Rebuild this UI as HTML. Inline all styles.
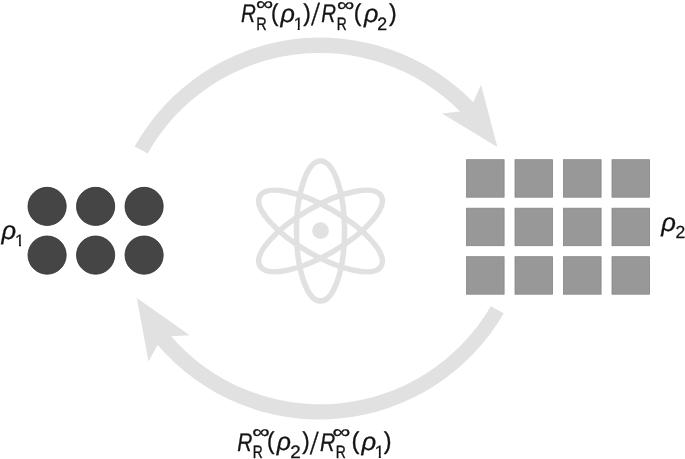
<!DOCTYPE html>
<html lang="en">
<head>
<meta charset="utf-8">
<title>Figure</title>
<style>
html,body{margin:0;padding:0;background:#fff;}
body{width:685px;height:459px;overflow:hidden;}
svg{display:block;}
</style>
</head>
<body>
<svg width="685" height="459" viewBox="0 0 685 459">
<defs>
<clipPath id="c1" clipPathUnits="userSpaceOnUse"><rect x="292.38" y="11.70" width="12.53" height="15.57"/><rect x="297.64" y="26.02" width="2.08" height="4.58"/></clipPath>
<clipPath id="c2" clipPathUnits="userSpaceOnUse"><rect x="373.48" y="439.90" width="12.53" height="15.57"/><rect x="378.74" y="454.22" width="2.08" height="4.58"/></clipPath>
<clipPath id="c3" clipPathUnits="userSpaceOnUse"><rect x="14.12" y="229.50" width="11.55" height="14.36"/><rect x="19.04" y="242.70" width="1.91" height="4.30"/></clipPath>
</defs>
<rect width="685" height="459" fill="#ffffff"/>
<path d="M134.6 146.5 A213 213 0 0 1 473.3 102.2 L481.0 84.8 L497.4 146.9 L441.9 113.5 L460.1 111.5 A197.5 197.5 0 0 0 147.7 153.4 Z" fill="#e1e1e1"/>
<path d="M503.8 313.3 A213 213 0 0 1 157.7 345.0 L148.5 361.5 L136.8 298.0 L189.8 335.2 L171.1 336.3 A197.5 197.5 0 0 0 490.8 306.3 Z" fill="#e1e1e1"/>
<g fill="none" stroke="#e1e1e1" stroke-width="5.5">
<ellipse cx="320.5" cy="231.0" rx="24.1" ry="70" transform="rotate(0 320.5 231.0)"/>
<ellipse cx="320.5" cy="231.0" rx="24.1" ry="70" transform="rotate(60 320.5 231.0)"/>
<ellipse cx="320.5" cy="231.0" rx="24.1" ry="70" transform="rotate(-60 320.5 231.0)"/>
</g>
<circle cx="320.5" cy="230.6" r="8.4" fill="#e1e1e1"/>
<g fill="#454545" stroke="#2e2e2e" stroke-width="0.8">
<circle cx="47.1" cy="206.4" r="19.1"/>
<circle cx="95.6" cy="206.4" r="19.1"/>
<circle cx="144.1" cy="206.4" r="19.1"/>
<circle cx="47.1" cy="255.1" r="19.1"/>
<circle cx="95.6" cy="255.1" r="19.1"/>
<circle cx="144.1" cy="255.1" r="19.1"/>
</g>
<g fill="#989898" stroke="#858585" stroke-width="0.8">
<rect x="466.5" y="159.7" width="37.6" height="37.5"/>
<rect x="515.0" y="159.7" width="37.6" height="37.5"/>
<rect x="563.5" y="159.7" width="37.6" height="37.5"/>
<rect x="612.0" y="159.7" width="37.6" height="37.5"/>
<rect x="466.5" y="208.2" width="37.6" height="37.5"/>
<rect x="515.0" y="208.2" width="37.6" height="37.5"/>
<rect x="563.5" y="208.2" width="37.6" height="37.5"/>
<rect x="612.0" y="208.2" width="37.6" height="37.5"/>
<rect x="466.5" y="256.7" width="37.6" height="37.5"/>
<rect x="515.0" y="256.7" width="37.6" height="37.5"/>
<rect x="563.5" y="256.7" width="37.6" height="37.5"/>
<rect x="612.0" y="256.7" width="37.6" height="37.5"/>
</g>
<g opacity="0.999" text-rendering="geometricPrecision" fill="#141414" font-family="'Liberation Sans', Arial, Helvetica, sans-serif">
<g><text transform="translate(241.06 21.90) scale(0.808 1.0)" font-size="25.5" font-style="italic" stroke="#141414" stroke-width="0.3" stroke-linejoin="round">R</text><text transform="translate(255.99 9.60) scale(1.293 1.0)" font-size="18.6" stroke="#141414" stroke-width="0.35" stroke-linejoin="round">∞</text><text transform="translate(256.21 29.60) scale(0.809 1.0)" font-size="17.9" stroke="#141414" stroke-width="0.4" stroke-linejoin="round">R</text><text transform="translate(270.92 20.70) scale(0.912 1.0)" font-size="24.4" stroke="#141414" stroke-width="0.35" stroke-linejoin="round">(</text><text transform="translate(280.40 21.60) scale(1.004 1.0)" font-size="25.0" font-style="italic" stroke="#141414" stroke-width="0.3" stroke-linejoin="round">ρ</text><text x="293.38" y="29.60" font-size="17.9" clip-path="url(#c1)" stroke="#141414" stroke-width="0.2">1</text><text transform="translate(303.16 20.70) scale(0.928 1.0)" font-size="24.4" stroke="#141414" stroke-width="0.35" stroke-linejoin="round">)</text><text transform="translate(312.20 25.30) scale(0.961 1.4)" font-size="22.0" font-style="italic" stroke="#141414" stroke-width="0.25" stroke-linejoin="round">/</text><text transform="translate(321.27 21.90) scale(0.802 1.0)" font-size="25.5" font-style="italic" stroke="#141414" stroke-width="0.3" stroke-linejoin="round">R</text><text transform="translate(336.98 10.60) scale(1.301 1.0)" font-size="18.6" stroke="#141414" stroke-width="0.35" stroke-linejoin="round">∞</text><text transform="translate(336.77 29.60) scale(0.771 1.0)" font-size="17.9" stroke="#141414" stroke-width="0.4" stroke-linejoin="round">R</text><text transform="translate(353.77 20.70) scale(0.943 1.0)" font-size="24.4" stroke="#141414" stroke-width="0.35" stroke-linejoin="round">(</text><text transform="translate(363.90 21.60) scale(1.004 1.0)" font-size="25.0" font-style="italic" stroke="#141414" stroke-width="0.3" stroke-linejoin="round">ρ</text><text transform="translate(377.31 29.60) scale(0.992 1.0)" font-size="17.9" stroke="#141414" stroke-width="0.3" stroke-linejoin="round">2</text><text transform="translate(389.06 20.70) scale(0.943 1.0)" font-size="24.4" stroke="#141414" stroke-width="0.35" stroke-linejoin="round">)</text></g>
<g><text transform="translate(237.15 450.70) scale(0.820 1.0)" font-size="25.5" font-style="italic" stroke="#141414" stroke-width="0.3" stroke-linejoin="round">R</text><text transform="translate(252.18 438.10) scale(1.310 1.0)" font-size="18.6" stroke="#141414" stroke-width="0.35" stroke-linejoin="round">∞</text><text transform="translate(252.77 457.80) scale(0.771 1.0)" font-size="17.9" stroke="#141414" stroke-width="0.4" stroke-linejoin="round">R</text><text transform="translate(267.10 449.20) scale(0.928 1.0)" font-size="24.4" stroke="#141414" stroke-width="0.35" stroke-linejoin="round">(</text><text transform="translate(276.79 450.10) scale(0.989 1.0)" font-size="25.0" font-style="italic" stroke="#141414" stroke-width="0.3" stroke-linejoin="round">ρ</text><text transform="translate(290.36 457.80) scale(1.054 1.0)" font-size="17.9" stroke="#141414" stroke-width="0.3" stroke-linejoin="round">2</text><text transform="translate(302.17 449.20) scale(0.912 1.0)" font-size="24.4" stroke="#141414" stroke-width="0.35" stroke-linejoin="round">)</text><text transform="translate(311.00 453.80) scale(0.961 1.4)" font-size="22.0" font-style="italic" stroke="#141414" stroke-width="0.25" stroke-linejoin="round">/</text><text transform="translate(320.05 450.70) scale(0.826 1.0)" font-size="25.5" font-style="italic" stroke="#141414" stroke-width="0.3" stroke-linejoin="round">R</text><text transform="translate(332.45 438.10) scale(1.344 1.0)" font-size="18.6" stroke="#141414" stroke-width="0.35" stroke-linejoin="round">∞</text><text transform="translate(335.66 457.80) scale(0.776 1.0)" font-size="17.9" stroke="#141414" stroke-width="0.4" stroke-linejoin="round">R</text><text transform="translate(351.53 449.20) scale(0.974 1.0)" font-size="24.4" stroke="#141414" stroke-width="0.35" stroke-linejoin="round">(</text><text transform="translate(361.51 450.10) scale(1.025 1.0)" font-size="25.0" font-style="italic" stroke="#141414" stroke-width="0.3" stroke-linejoin="round">ρ</text><text x="374.48" y="457.80" font-size="17.9" clip-path="url(#c2)" stroke="#141414" stroke-width="0.2">1</text><text transform="translate(383.76 449.20) scale(0.959 1.0)" font-size="24.4" stroke="#141414" stroke-width="0.35" stroke-linejoin="round">)</text></g>
<g><text x="1.51" y="238.60" font-size="25.5" font-style="italic" stroke="#141414" stroke-width="0.3" stroke-linejoin="round">ρ</text><text x="15.12" y="246.00" font-size="16.5" clip-path="url(#c3)" stroke="#141414" stroke-width="0.3">1</text></g>
<g><text x="661.31" y="230.50" font-size="25.5" font-style="italic" stroke="#141414" stroke-width="0.3" stroke-linejoin="round">ρ</text><text x="675.62" y="238.00" font-size="17.5" stroke="#141414" stroke-width="0.3" stroke-linejoin="round">2</text></g>
</g>
</svg>
</body>
</html>
